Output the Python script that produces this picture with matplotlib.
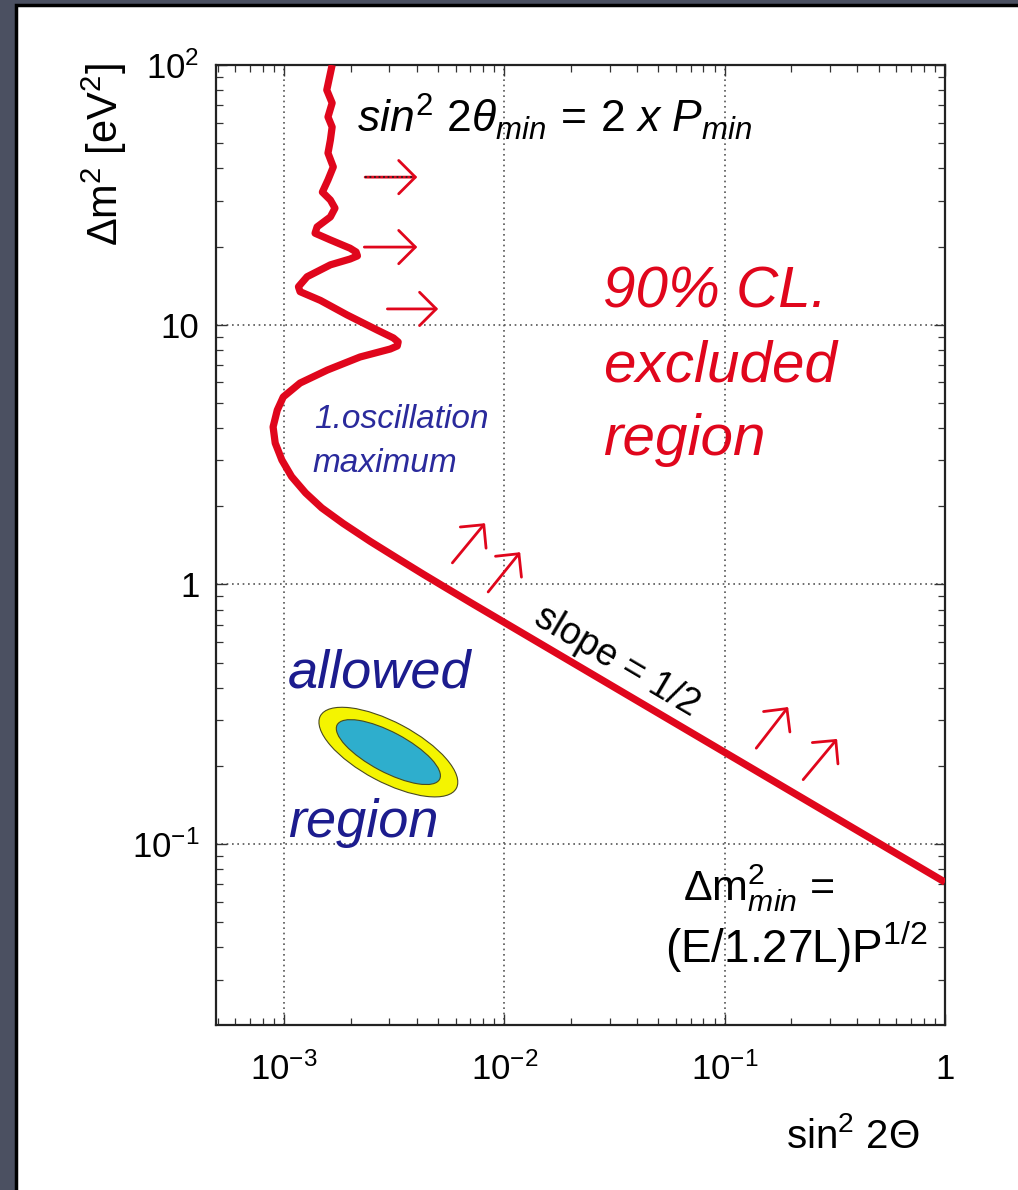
import numpy as np
import matplotlib
matplotlib.use('Agg')
import matplotlib.pyplot as plt
from matplotlib.patches import Rectangle, Ellipse
import matplotlib.transforms as mtransforms

plt.rcParams['font.family'] = ['Liberation Sans', 'DejaVu Sans']
plt.rcParams['mathtext.fontset'] = 'custom'
plt.rcParams['mathtext.rm'] = 'Liberation Sans'
plt.rcParams['mathtext.it'] = 'Liberation Sans:italic'
plt.rcParams['mathtext.bf'] = 'Liberation Sans:bold'

# ---------------- data ----------------
excl_sin2 = [1.65e-3, 1.56e-3, 1.65e-3, 1.58e-3, 1.65e-3, 1.62e-3, 1.58e-3, 1.67e-3,
             1.58e-3, 1.49e-3, 1.62e-3, 1.70e-3, 1.62e-3, 1.41e-3, 1.38e-3, 1.62e-3,
             1.99e-3, 2.12e-3, 2.15e-3, 1.99e-3, 1.62e-3, 1.27e-3, 1.16e-3, 1.18e-3,
             1.46e-3, 1.93e-3, 2.64e-3, 3.13e-3, 3.29e-3, 3.26e-3, 3.03e-3, 2.21e-3,
             1.57e-3, 1.18e-3, 0.99e-3, 0.93e-3, 0.89e-3, 0.91e-3, 0.976e-3, 1.08e-3,
             1.25e-3, 1.48e-3, 1.85e-3, 2.46e-3, 3.25e-3, 4.28e-3, 5.27e-3, 7.2e-3,
             9.86e-3, 0.1, 1.0]
excl_dm2 = [100, 80.1, 71.4, 63.1, 57.7, 51.4, 45.8, 40.5,
            36.1, 32.4, 30.2, 28.1, 26.0, 23.8, 22.5, 21.2,
            19.7, 19.05, 18.4, 17.9, 17.0, 15.3, 14.0, 13.4,
            12.4, 10.9, 9.54, 8.89, 8.58, 8.28, 8.06, 7.51,
            6.69, 5.96, 5.27, 4.69, 4.04, 3.50, 3.01, 2.60,
            2.25, 1.97, 1.717, 1.463, 1.263, 1.094, 0.984, 0.840,
            0.718, 0.2255, 0.0713]

# allowed-region centre (sin^2 2theta, dm^2)
allowed_center = (2.97e-3, 0.226)

# arrows: (x_start, y_start, x_end, y_end)
arrows_horizontal = [(2.31e-3, 19.9, 4.02e-3, 19.9),
                     (2.94e-3, 11.5, 5.0e-3, 11.5)]
arrow_dotted = (2.33e-3, 37.0, 4.02e-3, 37.0)
arrows_diagonal = [(5.80e-3, 1.21, 8.16e-3, 1.72),
                   (8.43e-3, 0.935, 1.178e-2, 1.33),
                   (0.139, 0.234, 0.194, 0.337),
                   (0.227, 0.177, 0.3236, 0.254)]

x_ticks = [1e-3, 1e-2, 1e-1, 1]
x_tick_labels = [r'$10^{-3}$', r'$10^{-2}$', r'$10^{-1}$', '1']
y_ticks = [0.1, 1, 10, 100]
y_tick_labels = [r'$10^{-1}$', '1', '10', r'$10^{2}$']

RED = '#e0061c'
NAVY = '#1c1c8e'

# ---------------- figure ----------------
W, H = 1018, 1190
fig = plt.figure(figsize=(W / 100, H / 100), dpi=100, facecolor='#4b5061')
panel = Rectangle((16 / W, -0.02), 1.1, 1 - 5 / H + 0.02, transform=fig.transFigure,
                  facecolor='white', edgecolor='black', lw=2.5, zorder=-10)
fig.patches.append(panel)

ax = fig.add_axes([216 / W, 1 - 1025 / H, 729 / W, 960 / H])
ax.set_zorder(1)
ax.set_xscale('log')
ax.set_yscale('log')
ax.set_xlim(4.9e-4, 1)
ax.set_ylim(0.0201, 100)
ax.set_facecolor('white')

ax.grid(True, which='major', color='#555555', linestyle=(0, (1, 2.2)), linewidth=1.2)
ax.set_axisbelow(True)

ax.set_xticks(x_ticks)
ax.set_xticklabels(x_tick_labels)
ax.set_yticks(y_ticks)
ax.set_yticklabels(y_tick_labels)
ax.tick_params(which='both', direction='in', top=True, right=True, colors='#333333',
               labelcolor='black')
ax.tick_params(which='major', length=8, width=1.0, labelsize=25)
ax.tick_params(axis='x', which='major', pad=20)
ax.tick_params(axis='y', which='major', pad=12)
ax.tick_params(which='minor', length=5, width=0.9)
for s in ax.spines.values():
    s.set_linewidth(1.6)
    s.set_color('#222222')

# exclusion curve
ax.plot(excl_sin2, excl_dm2, color=RED, lw=5.2, solid_joinstyle='round',
        solid_capstyle='butt', zorder=5, clip_on=True)

# allowed region ellipses
def add_ellipse(w_in, h_in, fc):
    tr = fig.dpi_scale_trans + mtransforms.ScaledTranslation(
        allowed_center[0], allowed_center[1], ax.transData)
    e = Ellipse((0, 0), w_in, h_in, angle=-28, transform=tr,
                facecolor=fc, edgecolor='#4a4a20', lw=0.8, zorder=4)
    ax.add_patch(e)

add_ellipse(1.54, 0.60, '#f4f400')
add_ellipse(1.16, 0.40, '#2eaecd')

# arrows
astyle = dict(arrowstyle='->,head_length=0.4,head_width=0.4', color=RED, lw=2.0,
              mutation_scale=30, shrinkA=0, shrinkB=0)
for (x0, y0, x1, y1) in arrows_horizontal + arrows_diagonal + [arrow_dotted]:
    ax.annotate('', xy=(x1, y1), xytext=(x0, y0), arrowprops=astyle, zorder=6)
x0, y0, x1, y1 = arrow_dotted
ax.plot([x0, x1 * 0.97], [y0, y1], color='#222222', lw=1.3, ls=(0, (1, 1.5)), zorder=7)

# texts
def ftx(px):
    return (px - 216) / 729

def fty(py):
    return (1025 - py) / 960

ax.text(ftx(357), fty(133), r'$sin^2\ 2\theta_{min}\,=\,2\ x\ P_{min}$', transform=ax.transAxes,
        fontsize=32, color='black', ha='left', va='baseline')

for txt, py in [('90% CL.', 307), ('excluded', 382), ('region', 455)]:
    ax.text(ftx(603), fty(py), txt, transform=ax.transAxes, fontsize=42, color=RED,
            style='italic', ha='left', va='baseline')

ax.text(ftx(314), fty(428), '1.oscillation', transform=ax.transAxes, fontsize=24,
        color='#2a2a9c', style='italic', ha='left', va='baseline')
ax.text(ftx(312), fty(472), 'maximum', transform=ax.transAxes, fontsize=24,
        color='#2a2a9c', style='italic', ha='left', va='baseline')

ax.text(ftx(288), fty(688), 'allowed', transform=ax.transAxes, fontsize=39,
        color=NAVY, style='italic', ha='left', va='baseline', zorder=8)
ax.text(ftx(288), fty(837), 'region', transform=ax.transAxes, fontsize=39,
        color=NAVY, style='italic', ha='left', va='baseline', zorder=8)

ax.text(ftx(617), fty(661), 'slope = 1/2', transform=ax.transAxes, fontsize=27,
        color='black', rotation=-30.5, ha='center', va='center', rotation_mode='anchor')

ax.text(ftx(683), fty(900), r'$\Delta$m$^2_{\mathit{min}}$ =', transform=ax.transAxes,
        fontsize=31, color='black', ha='left', va='baseline')
ax.text(ftx(665), fty(963), r'(E/1.27L)P$^{1/2}$', transform=ax.transAxes,
        fontsize=33, color='black', ha='left', va='baseline')

# axis labels
fig.text(853 / W, 1 - 1137 / H, r'sin$^2$ 2$\Theta$', fontsize=29, ha='center', va='center')
fig.text(104 / W, 1 - 155 / H, r'$\Delta$m$^2$ [eV$^2$]', fontsize=30, ha='center',
         va='center', rotation=90)

fig.savefig('out.png', dpi=100, facecolor=fig.get_facecolor())
